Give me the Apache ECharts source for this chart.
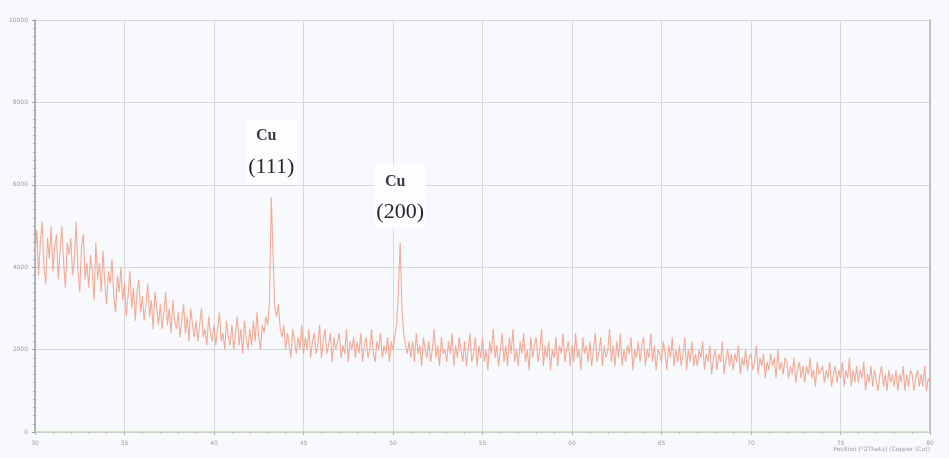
<!DOCTYPE html>
<html>
<head>
<meta charset="utf-8">
<script src="https://cdn.jsdelivr.net/npm/echarts@6/dist/echarts.min.js"></script>
<style>
  html, body { margin: 0; padding: 0; background: #f7f9fc; }
  #chart { width: 949px; height: 458px; }
</style>
</head>
<body>
<div id="chart"></div>
<script>
// 2theta scan, 30..80 deg, 0.1 deg step
const startAngle = 30
const stepAngle = 0.1
const intensity = [
  // 30
  4300, 4900, 3800, 4600, 5100, 4000, 3600, 4700, 4200, 5000,
  // 31
  3900, 4500, 4800, 3700, 4400, 5000, 4100, 3500, 4600, 4300,
  // 32
  4700, 3800, 4200, 5100, 3900, 3400, 4500, 4800, 3700, 4100,
  // 33
  3500, 4300, 3900, 3200, 4600, 3700, 4100, 3400, 4400, 3600,
  // 34
  3100, 3900, 3600, 4200, 3300, 2900, 3800, 3400, 4000, 3200,
  // 35
  3600, 2800, 3300, 3900, 3000, 3500, 2700, 3400, 3700, 2900,
  // 36
  3300, 2700, 3100, 3600, 2800, 3200, 2500, 3400, 3000, 2600,
  // 37
  3100, 2500, 2900, 3400, 2600, 3000, 2400, 3200, 2700, 2500,
  // 38
  2900, 2300, 2700, 3100, 2400, 2800, 2200, 3000, 2600, 2300,
  // 39
  2700, 2200, 2600, 3000, 2300, 2500, 2100, 2800, 2400, 2200,
  // 40
  2600, 2100, 2500, 2900, 2200, 2400, 2000, 2700, 2300, 2100,
  // 41
  2600, 2000, 2400, 2800, 2100, 2500, 1900, 2700, 2300, 2000,
  // 42
  2500, 2100, 2700, 2200, 2900, 2300, 2000, 2600, 2400, 2800,
  // 43  Cu(111)
  2600, 3200, 5700, 4300, 3000, 2800, 3100, 2500, 2300, 2600,
  // 44
  2000, 2400, 2100, 1800, 2500, 2200, 1900, 2300, 2000, 2600,
  // 45
  1900, 2300, 2000, 2500, 1800, 2200, 2400, 1900, 2100, 2600,
  // 46
  1800, 2200, 2500, 1900, 2100, 2400, 1700, 2300, 2000, 2200,
  // 47
  2400, 1800, 2100, 1900, 2500, 1700, 2200, 2000, 2300, 1800,
  // 48
  2200, 1900, 2400, 1700, 2100, 2300, 1800, 2000, 2500, 1900,
  // 49
  1700, 2200, 2000, 2400, 1800, 2100, 1900, 2300, 1700, 2200,
  // 50  Cu(200)
  2000, 2300, 2600, 3400, 4600, 3000, 2400, 2100, 1900, 2200,
  // 51
  1800, 2200, 1700, 2400, 1900, 2100, 1600, 2300, 2000, 1800,
  // 52
  2200, 1700, 2000, 2500, 1800, 2100, 1600, 2300, 1900, 2000,
  // 53
  1700, 2200, 1900, 2400, 1600, 2100, 1800, 2300, 2000, 1700,
  // 54
  2200, 1600, 2000, 2400, 1700, 1900, 2300, 1600, 2100, 1800,
  // 55
  2300, 1700, 2000, 1500, 2200, 1900, 2500, 1800, 2100, 1600,
  // 56
  2000, 2400, 1700, 2100, 1600, 2300, 1900, 2500, 1700, 2000,
  // 57
  1600, 2200, 1900, 2400, 1700, 2000, 1500, 2300, 1800, 2100,
  // 58
  2300, 1700, 2000, 2500, 1600, 2100, 1800, 2200, 1500, 2000,
  // 59
  1800, 2300, 1600, 2100, 1900, 2400, 1700, 2000, 2200, 1600,
  // 60
  2100, 1700, 2400, 1800, 2000, 1500, 2300, 1900, 2100, 1700,
  // 61
  2200, 1600, 2000, 2400, 1700, 1900, 2300, 1600, 2100, 1800,
  // 62
  2000, 2500, 1700, 2100, 1600, 2200, 1800, 2400, 1600, 2000,
  // 63
  1700, 2100, 1900, 2300, 1500, 2000, 1800, 2200, 1700, 2100,
  // 64
  2300, 1600, 2000, 1800, 2400, 1700, 2100, 1500, 2000, 1900,
  // 65
  1700, 2200, 1900, 1500, 2100, 1800, 2300, 1600, 2000, 1700,
  // 66
  2100, 1600, 1900, 2300, 1500, 2000, 1700, 2200, 1600, 1900,
  // 67
  1600, 2000, 1800, 2200, 1500, 1900, 1700, 2100, 1400, 1800,
  // 68
  2000, 1500, 1900, 1700, 2200, 1400, 1800, 2000, 1600, 1900,
  // 69
  1500, 1900, 1700, 2100, 1400, 1800, 1600, 2000, 1500, 1800,
  // 70
  1900, 1500, 1700, 2100, 1400, 1800, 1600, 1900, 1300, 1700,
  // 71
  1500, 1900, 1600, 1800, 1300, 2000, 1500, 1700, 1400, 1800,
  // 72
  1700, 1300, 1600, 1400, 1800, 1200, 1500, 1700, 1300, 1600,
  // 73
  1200, 1600, 1400, 1800, 1300, 1500, 1100, 1700, 1400, 1500,
  // 74
  1600, 1200, 1500, 1300, 1700, 1100, 1400, 1600, 1200, 1500,
  // 75
  1300, 1700, 1100, 1500, 1300, 1800, 1100, 1500, 1200, 1600,
  // 76
  1200, 1500, 1300, 1700, 1000, 1400, 1200, 1600, 1100, 1500,
  // 77
  1500, 1000, 1400, 1600, 1100, 1400, 1000, 1500, 1200, 1400,
  // 78
  1100, 1500, 1000, 1400, 1200, 1600, 1000, 1400, 1100, 1500,
  // 79
  1400, 1000, 1300, 1500, 1100, 1400, 1100, 1600, 1000, 1300,
  // 80
  1200
]
const yTicks = [0, 2000, 4000, 6000, 8000, 10000]
const peaks = [
  { name: 'Cu', hkl: '(111)', angle: 43.2, value: 5700 },
  { name: 'Cu', hkl: '(200)', angle: 50.4, value: 4600 }
]
const xAxisTitle = 'Position [°2Theta] (Copper (Cu))'

const seriesData = intensity.map((v, i) => [+(startAngle + i * stepAngle).toFixed(1), v])

const chart = echarts.init(document.getElementById('chart'))

const tinyLabel = { fontSize: 6, color: '#9a9ca4', fontFamily: 'DejaVu Sans' }

const option = {
  backgroundColor: '#f7f9fc',
  animation: false,
  grid: { left: 35, right: 19, top: 20, bottom: 26 },
  xAxis: [
    {
      type: 'value',
      min: 30,
      max: 80,
      interval: 5,
      axisLine: { lineStyle: { color: '#c6b9d6', type: 'dashed', width: 1 } },
      axisTick: { show: true, length: 3, lineStyle: { color: '#b0b0b8' } },
      minorTick: { show: true, splitNumber: 5, length: 2, lineStyle: { color: '#c0c0c8' } },
      axisLabel: { ...tinyLabel, margin: 8, formatter: v => v.toFixed(0) },
      splitLine: { show: true, lineStyle: { color: '#d6d8de', width: 1 } }
    },
    {
      type: 'value',
      position: 'top',
      min: 30,
      max: 80,
      axisLine: { show: true, lineStyle: { color: '#c9d9bb', width: 1.5 } },
      axisTick: { show: false },
      axisLabel: { show: false },
      splitLine: { show: false }
    }
  ],
  yAxis: [
    {
      type: 'value',
      min: 0,
      max: 10000,
      interval: 2000,
      axisLine: { show: true, lineStyle: { color: '#9ea0a8', width: 1.5 } },
      axisTick: { show: true, length: 3, lineStyle: { color: '#a0a2aa' } },
      minorTick: { show: true, splitNumber: 10, length: 2, lineStyle: { color: '#a8aab2' } },
      axisLabel: {
        ...tinyLabel,
        margin: 7,
        formatter: v => yTicks.includes(v) ? String(v) : ''
      },
      splitLine: { show: true, lineStyle: { color: '#d6d8de', width: 1 } }
    },
    {
      type: 'value',
      position: 'right',
      min: 0,
      max: 10000,
      axisLine: { show: true, lineStyle: { color: '#b4b6bc', width: 1.5 } },
      axisTick: { show: false },
      axisLabel: { show: false },
      splitLine: { show: false }
    }
  ],
  graphic: [
    {
      type: 'text',
      right: 19,
      bottom: 6,
      style: { text: xAxisTitle, fontSize: 6, fill: '#9a9ca4', fontFamily: 'DejaVu Sans' }
    }
  ],
  series: [
    {
      type: 'line',
      data: seriesData,
      showSymbol: false,
      symbol: 'none',
      lineStyle: { color: '#f2a28c', width: 1.1, opacity: 0.9 },
      markPoint: {
        symbol: 'circle',
        symbolSize: 0,
        data: peaks.map(p => ({
          coord: [p.angle, p.value],
          label: {
            show: true,
            position: 'top',
            distance: 14,
            formatter: '{a|' + p.name + '}\n{b|' + p.hkl + '}',
            backgroundColor: '#fcfdfe',
            padding: [2, 2, 0, 2],
            rich: {
              a: {
                fontFamily: 'Liberation Serif',
                fontWeight: 'bold',
                fontSize: 16,
                color: '#3c3c44',
                lineHeight: 30,
                align: 'center',
                padding: [0, 10, 0, 0]
              },
              b: {
                fontFamily: 'Liberation Serif',
                fontSize: 22,
                color: '#26262c',
                lineHeight: 32,
                align: 'center'
              }
            }
          }
        }))
      }
    }
  ]
}

chart.setOption(option)
</script>
</body>
</html>
